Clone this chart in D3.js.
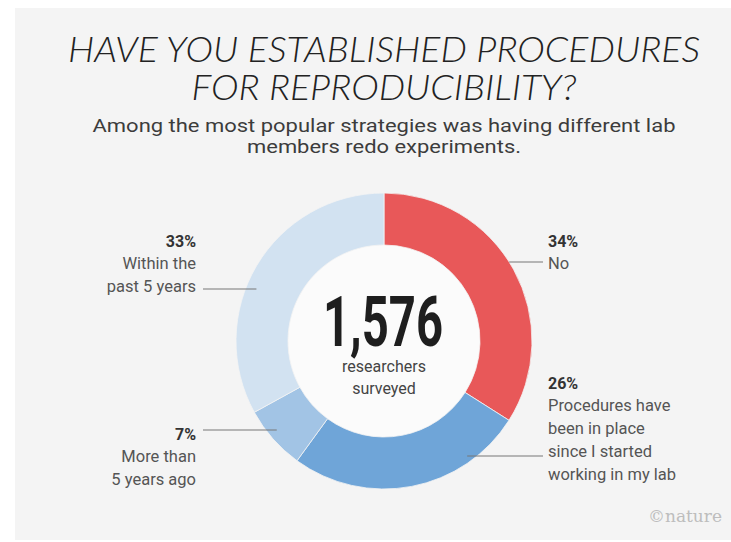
<!DOCTYPE html>
<html>
<head>
<meta charset="utf-8">
<script src="https://cdn.jsdelivr.net/npm/d3@7"></script>
<style>
	body { margin: 0; background: #fff; }
	svg { display: block; }
</style>
</head>
<body>
<script>
// survey answers, clockwise from 12 o'clock
const categories = [`No`, `Procedures have been in place since I started working in my lab`, `More than 5 years ago`, `Within the past 5 years`];
const shares = [34, 26, 7, 33];
const labelLines = [
	[`No`],
	[`Procedures have`, `been in place`, `since I started`, `working in my lab`],
	[`More than`, `5 years ago`],
	[`Within the`, `past 5 years`]
];
const totalSurveyed = 1576;
const colors = [`#e85859`, `#6fa5d8`, `#a2c4e5`, `#d2e2f1`];

const width = 731, height = 542;
const cx = 384, cy = 341, outerR = 148, innerR = 96;

// where each label block sits and where its leader line is
const layout = [
	{ x: 548, y: 247, side: `right`, lineY: 262 },
	{ x: 548, y: 389, side: `right`, lineY: 456, overlap: 10 },
	{ x: 196, y: 440, side: `left`, lineY: 430, overlap: 11 },
	{ x: 196, y: 247, side: `left`, lineY: 289, overlap: 11 }
];

const svg = d3
	.select(`body`)
	.append(`svg`)
	.attr(`width`, width)
	.attr(`height`, height);

svg
	.append(`rect`)
	.attr(`x`, 15)
	.attr(`y`, 8)
	.attr(`width`, width - 15)
	.attr(`height`, height - 10)
	.attr(`fill`, `#f4f4f4`);

// title
const title = [`HAVE YOU ESTABLISHED PROCEDURES`, `FOR REPRODUCIBILITY?`];
const titleLen = [632, 385];
svg
	.selectAll(`text.title`)
	.data(title)
	.enter()
	.append(`text`)
	.attr(`class`, `title`)
	.attr(`x`, cx)
	.attr(`y`, (d, i) => 62 + i * 38)
	.attr(`text-anchor`, `middle`)
	.attr(`textLength`, (d, i) => titleLen[i])
	.attr(`lengthAdjust`, `spacingAndGlyphs`)
	.style(`font-family`, `Lato, "Open Sans", sans-serif`)
	.style(`font-style`, `italic`)
	.style(`font-weight`, 300)
	.style(`font-size`, `35px`)
	.style(`fill`, `#222`)
	.text(d => d);

const subtitle = [`Among the most popular strategies was having different lab`, `members redo experiments.`];
const subLen = [583, 274];
svg
	.selectAll(`text.subtitle`)
	.data(subtitle)
	.enter()
	.append(`text`)
	.attr(`class`, `subtitle`)
	.attr(`x`, cx)
	.attr(`y`, (d, i) => 132 + i * 21)
	.attr(`text-anchor`, `middle`)
	.attr(`textLength`, (d, i) => subLen[i])
	.attr(`lengthAdjust`, `spacingAndGlyphs`)
	.style(`font-family`, `Roboto, sans-serif`)
	.style(`font-size`, `18.5px`)
	.style(`fill`, `#3c3c3c`)
	.text(d => d);

// donut
const pie = d3
	.pie()
	.sort(null)
	.value(d => d);
const arc = d3
	.arc()
	.innerRadius(innerR)
	.outerRadius(outerR);
const arcs = pie(shares);

const g = svg.append(`g`).attr(`transform`, `translate(${cx},${cy})`);

g
	.append(`circle`)
	.attr(`r`, innerR)
	.attr(`fill`, `#fbfbfb`);

g
	.selectAll(`path`)
	.data(arcs)
	.enter()
	.append(`path`)
	.attr(`d`, arc)
	.attr(`fill`, (d, i) => colors[i])
	.attr(`stroke`, `#f4f4f4`)
	.attr(`stroke-width`, 0.8);

// leader lines, from label to the ring edge
svg
	.selectAll(`line.leader`)
	.data(layout)
	.enter()
	.append(`line`)
	.attr(`class`, `leader`)
	.attr(`x1`, d => (d.side === `left` ? d.x + 7 : d.x - 5))
	.attr(`x2`, d => {
		let dx = Math.sqrt(outerR * outerR - (d.lineY - cy) * (d.lineY - cy)) - (d.overlap || 0);
		return d.side === `left` ? cx - dx : cx + dx;
	})
	.attr(`y1`, d => d.lineY)
	.attr(`y2`, d => d.lineY)
	.attr(`stroke`, `#777`)
	.attr(`stroke-width`, 1);

// labels
const labels = svg
	.selectAll(`g.label`)
	.data(arcs)
	.enter()
	.append(`g`)
	.attr(`class`, `label`)
	.attr(`transform`, (d, i) => `translate(${layout[i].x},${layout[i].y})`);

labels
	.append(`text`)
	.attr(`text-anchor`, (d, i) => (layout[i].side === `left` ? `end` : `start`))
	.style(`font-family`, `Roboto, sans-serif`)
	.style(`font-weight`, 700)
	.style(`font-size`, `16px`)
	.style(`fill`, `#333`)
	.text(d => `${d.value}%`);

labels.each(function(d, i) {
	d3.select(this)
		.selectAll(`text.line`)
		.data(labelLines[i])
		.enter()
		.append(`text`)
		.attr(`class`, `line`)
		.attr(`y`, (t, j) => 22 + j * 23)
		.attr(`text-anchor`, layout[i].side === `left` ? `end` : `start`)
		.style(`font-family`, `Roboto, sans-serif`)
		.style(`font-size`, `16.5px`)
		.style(`fill`, `#555`)
		.text(t => t);
});

// centre
svg
	.append(`text`)
	.attr(`x`, cx - 1)
	.attr(`y`, 346)
	.attr(`text-anchor`, `middle`)
	.attr(`textLength`, 120)
	.attr(`lengthAdjust`, `spacingAndGlyphs`)
	.style(`font-family`, `Roboto, sans-serif`)
	.style(`font-weight`, 700)
	.style(`font-size`, `71px`)
	.style(`fill`, `#1e1e1e`)
	.text(d3.format(`,`)(totalSurveyed));

svg
	.selectAll(`text.sub-centre`)
	.data([`researchers`, `surveyed`])
	.enter()
	.append(`text`)
	.attr(`class`, `sub-centre`)
	.attr(`x`, cx)
	.attr(`y`, (d, i) => 372 + i * 22)
	.attr(`text-anchor`, `middle`)
	.style(`font-family`, `Roboto, sans-serif`)
	.style(`font-size`, `16px`)
	.style(`fill`, `#444`)
	.text(d => d);

svg
	.append(`text`)
	.attr(`x`, 722)
	.attr(`y`, 522)
	.attr(`text-anchor`, `end`)
	.style(`font-family`, `"DejaVu Serif", serif`)
	.style(`font-size`, `17px`)
	.style(`fill`, `#bdbdbd`)
	.text(`©nature`);
</script>
</body>
</html>
